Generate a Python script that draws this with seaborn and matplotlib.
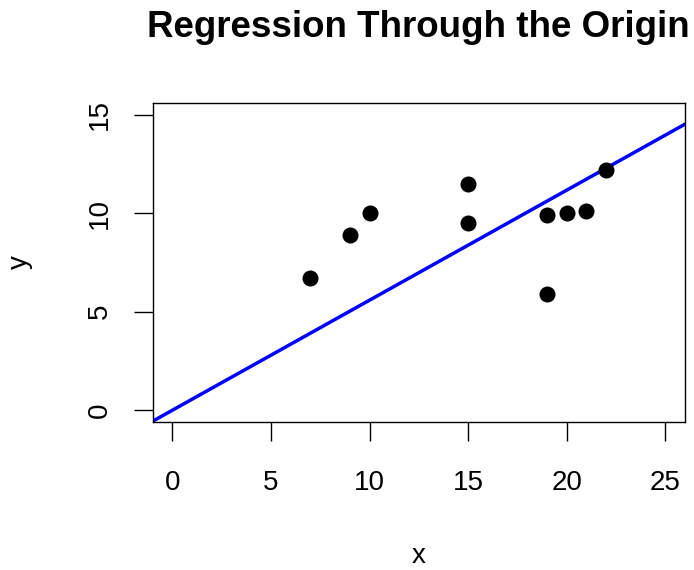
import numpy as np
import matplotlib
matplotlib.use("Agg")
import matplotlib.pyplot as plt
import seaborn as sns

x = np.array([7, 9, 10, 15, 15, 19, 19, 20, 21, 22])
y = np.array([6.7, 8.9, 10.0, 11.5, 9.5, 9.9, 5.9, 10.0, 10.1, 12.2])
x_ticks = [0, 5, 10, 15, 20, 25]
y_ticks = [0, 5, 10, 15]

# least squares fit with no intercept
slope = np.sum(x * y) / np.sum(x * x)

sns.set_style("white")
plt.rcParams['font.family'] = ['Liberation Sans', 'DejaVu Sans']
plt.rcParams['text.color'] = 'black'
plt.rcParams['axes.labelcolor'] = 'black'

fig = plt.figure(figsize=(6.94, 5.70), dpi=100)
ax = fig.add_axes([0.220, 0.2596, 0.767, 0.560])

sns.scatterplot(x=x, y=y, color='black', s=133, linewidth=0, ax=ax, zorder=3)
ax.axline((0, 0), slope=slope, color='#0000ff', linewidth=2.5, zorder=2)

ax.set_xlim(-1, 26)
ax.set_ylim(-0.6, 15.6)
ax.set_xticks(x_ticks)
ax.set_yticks(y_ticks)

for sp in ax.spines.values():
    sp.set_visible(True)
    sp.set_color('black')
    sp.set_linewidth(1.0)

ax.tick_params(axis='both', direction='out', length=13.7, width=1.0,
               bottom=True, left=True, color='black',
               labelsize=20, labelcolor='black')
ax.tick_params(axis='x', pad=21)
ax.tick_params(axis='y', pad=15, labelrotation=90)
for lab in ax.get_yticklabels():
    lab.set_va('center')

ax.set_xlabel('x', fontsize=20, va='baseline', color='black')
ax.xaxis.set_label_coords(0.5, -0.443)
ax.set_ylabel('y', fontsize=20, color='black')
ax.yaxis.set_label_coords(-0.225, 0.5)

fig.text(418 / 694, 1 - 37 / 570, 'Regression Through the Origin',
         fontsize=26.5, fontweight='bold', ha='center', va='baseline',
         color='black')

fig.savefig("out.png", dpi=100)
